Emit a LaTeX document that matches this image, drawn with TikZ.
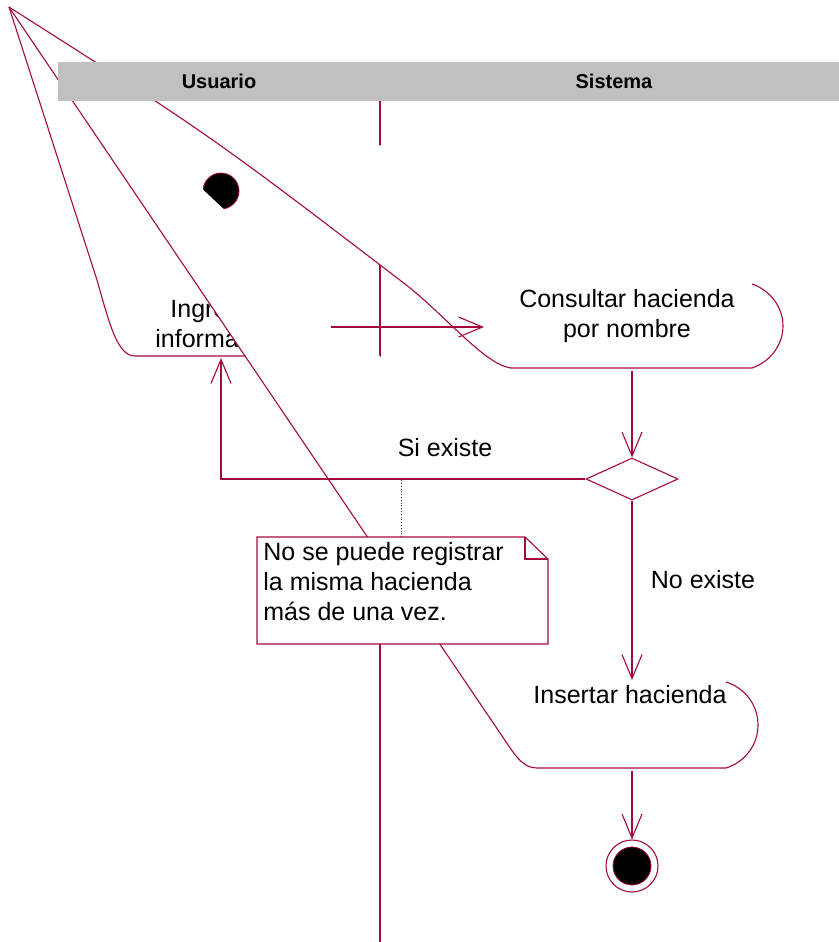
\documentclass[tikz,border=0pt]{standalone}
\usepackage{fontspec}
\setmainfont{Liberation Sans}
\usetikzlibrary{arrows.meta,shapes.geometric}
\definecolor{roseline}{RGB}{165,10,62}
\definecolor{lanegray}{RGB}{192,192,192}

\begin{document}
\begin{tikzpicture}[x=0.5pt,y=-0.5pt,
    every node/.style={font=\fontsize{12.5}{15}\selectfont, inner sep=0pt},
    umlline/.style={draw=roseline, line width=0.55pt},
    flow/.style={umlline, -{Straight Barb[length=12pt,width=10pt]}},
    lanehead/.style={font=\fontsize{10}{12}\selectfont\bfseries}]
  \useasboundingbox (0,0) rectangle (839,942);
  % the broken left edges all run to this point
  \coordinate (apex) at (9,7);
  \draw[umlline] (380,101) -- (380,942);

  \node[circle, fill=black, draw=roseline, line width=0.4pt, minimum size=18pt] (inicio) at (221,191) {};

  % Ingresar
  \draw[umlline, fill=white] (apex) -- (97,280) .. controls (109,322) and (117,356) .. (135,356)
    -- (300,356) .. controls (318,352) and (331,340) .. (331,324) .. controls (331,308) and (318,296) .. (300,292);
  \node[anchor=base west] (ingresar1) at (170,317) {Ingre};
  \node[anchor=base west] (ingresar2) at (155,347) {informa};

  % Consultar
  \draw[umlline, fill=white] (apex) .. controls (210,135) .. (405,284) .. controls (445,315) and (485,365) .. (511,368)
    -- (752,368) .. controls (770,362) and (783,345) .. (783,326) .. controls (783,307) and (770,290) .. (752,284);
  \node[align=center, anchor=base] (consultar) at (627,337) {Consultar hacienda\\por nombre};

  \node[diamond, draw=roseline, line width=0.55pt, minimum width=46pt, minimum height=21pt] (decision) at (632,479) {};

  % Insertar
  \draw[umlline, fill=white] (apex) -- (500,733) .. controls (515,755) and (522,768) .. (537,768)
    -- (726,768) .. controls (745,762) and (758,745) .. (758,725) .. controls (758,705) and (745,688) .. (726,682);
  \node[anchor=base] (insertar) at (630,703) {Insertar hacienda};

  \node[circle, draw=roseline, line width=0.55pt, minimum size=26pt] (fin) at (632,866) {};
  \node[circle, fill=black, draw=roseline, line width=0.4pt, minimum size=19pt] (finin) at (fin) {};

  % nota
  \draw[umlline, fill=white] (257,537) -- (525,537) -- (548,559) -- (548,644) -- (257,644) -- cycle;
  \draw[umlline] (525,537) -- (525,559) -- (548,559);
  \node[align=left, anchor=base west] (nota) at (263,620) {No se puede registrar\\la misma hacienda\\más de una vez.};

  \coordinate (ingB) at (221,358);
  \coordinate (ingR) at (331,327);
  \coordinate (conL) at (484,327);
  \coordinate (conB) at (632,371);
  \coordinate (insT) at (632,680);
  \coordinate (insB) at (632,771);
  \coordinate (notaT) at (401,537);
  \coordinate (siT) at (401,479);

  \draw[flow] (ingR) -- (conL);
  \draw[flow] (conB) -- (decision.north);
  \draw[flow] (decision.south) -- (insT);
  \draw[flow] (insB) -- (fin.north);
  \draw[flow] (decision.west) -| (ingB);
  \draw[umlline, line width=0.4pt, densely dotted] (notaT) -- (siT);
  \node[anchor=base] (siexiste) at (445,456) {Si existe};
  \node[anchor=base] (noexiste) at (703,588) {No existe};

  % swimlane header
  \fill[lanegray] (58,62) rectangle (839,101);
  \node[lanehead] (usuario) at (219,81) {Usuario};
  \node[lanehead] (sistema) at (614,81) {Sistema};
\end{tikzpicture}
\end{document}
